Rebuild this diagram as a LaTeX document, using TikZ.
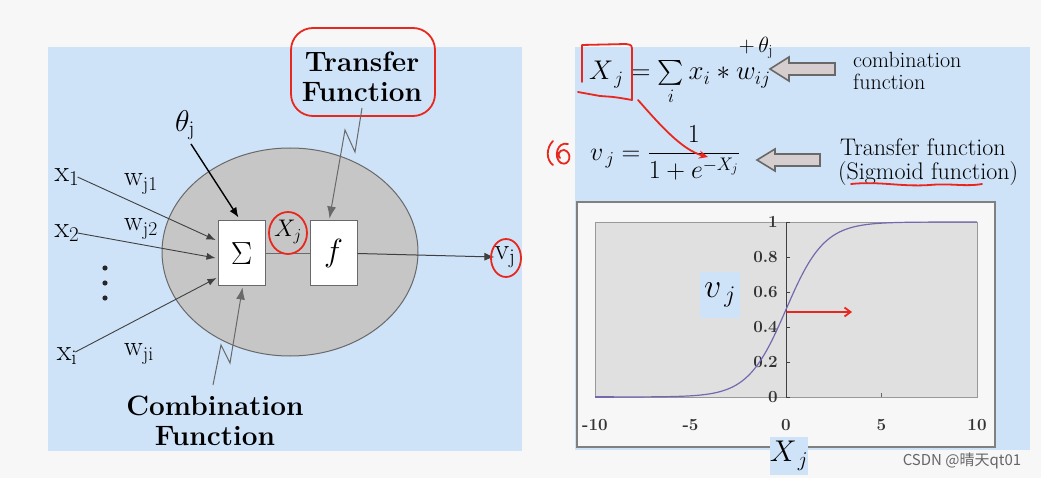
\RequirePackage{fix-cm}
\documentclass[tikz,border=0pt]{standalone}
\usepackage{amsmath}
\usepackage{fontspec}
\newfontfamily\cjk{Noto Sans CJK SC}
\usetikzlibrary{arrows.meta,calc}
\definecolor{panelblue}{RGB}{206,226,248}
\definecolor{cellgray}{RGB}{198,198,198}
\definecolor{edgegray}{RGB}{105,105,105}
\definecolor{plotgray}{RGB}{224,224,224}
\definecolor{hollowfill}{RGB}{214,206,206}
\definecolor{curvecol}{RGB}{115,105,175}
\definecolor{pen}{RGB}{232,40,30}
\definecolor{bgcol}{RGB}{247,247,247}
\newcommand{\fs}[1]{\fontsize{#1}{#1}\selectfont}
\begin{document}
\begin{tikzpicture}[x=1pt,y=-1pt,
  cellbox/.style={draw=edgegray,fill=white,line width=1pt,minimum width=47pt,minimum height=65pt,inner sep=0pt},
  lbl/.style={inner sep=0pt,font=\fs{30}},
  boldlbl/.style={inner sep=0pt,font=\fontsize{28}{30}\selectfont\bfseries,align=center},
  inarrow/.style={draw=black!75,line width=0.9pt,-{Latex[length=9pt,width=7pt]}},
  zig/.style={draw=edgegray,line width=1pt,-{Latex[length=12pt,width=9pt]}},
  redpen/.style={draw=pen,line width=1.8pt,line cap=round,line join=round},
  hollowarrow/.style={draw=edgegray,fill=hollowfill,line width=1.6pt,line join=miter},
  ticklbl/.style={inner sep=0pt,font=\fs{17}\bfseries,text=black!80},
  sidetxt/.style={inner sep=0pt,anchor=base west,font=\fs{24}},
  bluetag/.style={fill=panelblue,inner sep=0pt},
  ]
\useasboundingbox (0,0) rectangle (1041,478);
\fill[bgcol] (0,0) rectangle (1041,478);
\fill[panelblue] (48,47) rectangle (522,451);
\fill[panelblue] (575,47) rectangle (1030,450);

% ---------------- left: neuron ----------------
\draw[edgegray,fill=cellgray,line width=1pt] (290,252) ellipse [x radius=128, y radius=104];
\node[cellbox] (sum) at (241.5,253.5) {\fs{32}$\Sigma$};
\node[cellbox] (f) at (333.5,253.5) {\fs{32}$f$};
\draw[edgegray,line width=1pt] (sum) -- (f);
\node[lbl] (vj) at (505,257) {$\mathrm{v}_{\mathrm{j}}$};
\draw[black!75,line width=1pt,-{Latex[length=10pt,width=8pt]}] (f.east) -- (vj.west);
\node[lbl,font=\fs{24}] (xjin) at (288,232) {$X_j$};

\node[lbl] (theta) at (185,125) {$\theta_{\mathrm{j}}$};
\draw[black,line width=1.4pt,-{Latex[length=10pt,width=8pt]}] ($(theta.south)+(6,4)$) -- ($(sum.north)+(-3,-3)$);

\node[lbl] (x1) at (67,177) {$\mathrm{x}_1$};
\node[lbl] (x2) at (67,233) {$\mathrm{x}_2$};
\node[lbl] (xi) at (67,356) {$\mathrm{x}_{\mathrm{i}}$};
\node[lbl,font=\fs{28}] (w1) at (141,184) {$\mathrm{w}_{\mathrm{j}1}$};
\node[lbl,font=\fs{28}] (w2) at (141,229) {$\mathrm{w}_{\mathrm{j}2}$};
\node[lbl,font=\fs{28}] (wi) at (139,354) {$\mathrm{w}_{\mathrm{ji}}$};
\draw[inarrow] ($(x1.east)+(-2,0)$) -- ($(sum.west)+(-2,-13.5)$);
\draw[inarrow] ($(x2.east)+(-2,0)$) -- ($(sum.west)+(-2,4.5)$);
\draw[inarrow] ($(xi.east)+(-2,-4)$) -- ($(sum.west)+(-1,24.5)$);
\foreach \yy in {268,283,298} \fill[black!85] (105,\yy) circle [radius=2.6];

\node[boldlbl] (tf) at (362,77) {Transfer\\Function};
\draw[redpen,rounded corners=22pt] (291,28) rectangle (435,116);
\coordinate (ztop) at (362,108);
\coordinate (za) at (355,152);
\coordinate (zb) at (345,130);
\draw[zig] (ztop) -- (za) -- (zb) -- ($(f.north)+(-4,-2)$);

\node[boldlbl] (cf) at (215,421) {Combination\\Function};
\coordinate (zbot) at (213,385);
\coordinate (zc) at (221,345);
\coordinate (zd) at (230,363);
\draw[zig] (zbot) -- (zc) -- (zd) -- ($(sum.south)+(1,1)$);

\draw[redpen] (288,233) ellipse [x radius=19, y radius=21];
\draw[redpen] (506,258) ellipse [x radius=15, y radius=19];

% ---------------- right: formulas ----------------
\node[inner sep=0pt,anchor=base west] (eq1) at (589,80) {\fs{27}$X_{\,j} = \sum\limits_i x_i * w_{ij}$};
\node[inner sep=0pt,font=\fs{22}] (thetaplus) at (756,48) {$+\,\theta_{\mathrm{j}}$};
\node[inner sep=0pt,anchor=west] (eq2) at (590,153) {\fs{26}$\displaystyle v_{\,j} = \frac{1}{1+e^{-X_j}}$};

\draw[hollowarrow] (770,69) -- (789,57) -- (789,63) -- (835,63) -- (835,75) -- (789,75) -- (789,81) -- cycle;
\draw[hollowarrow] (757,160) -- (775,149) -- (775,154) -- (820,154) -- (820,166) -- (775,166) -- (775,171) -- cycle;
\node[sidetxt,font=\fs{22}] (comb1) at (853,68) {combination};
\node[sidetxt,font=\fs{22}] (comb2) at (853,90) {function};
\node[sidetxt] (trans1) at (840,156) {Transfer function};
\node[sidetxt] (trans2) at (838,180) {(Sigmoid function)};

% red annotations
\draw[redpen] (582,82) -- (582,45) -- (626,44) .. controls (632,45) .. (632,52) -- (632,100) .. controls (615,97) .. (600,96) -- (578,92);
\coordinate (redstart) at (638,100);
\coordinate (redtip) at (708,157);
\draw[redpen,-{Stealth[length=9pt,width=8pt]}] (redstart) .. controls (660,125) and (682,150) .. (redtip);
\draw[redpen] (553,141) .. controls (546,148) and (546,160) .. (553,165);
\draw[redpen] (568,144) .. controls (557,141) and (553,158) .. (561,163) .. controls (570,167) and (573,152) .. (564,150) .. controls (559,150) and (557,155) .. (560,158);
\draw[redpen] (851,184) .. controls (880,181) and (900,187) .. (930,185) .. controls (950,183) and (965,187) .. (982,184);

% ---------------- chart ----------------
\draw[black!50,fill=white!97!black,line width=1.2pt] (577,202) rectangle (995,447);
\fill[plotgray] (595,222) rectangle (977,397);
\draw[black!40,line width=0.8pt] (595,222) rectangle (977,397);
\draw[black!75,line width=1pt] (786,222) -- (786,397);
\foreach \v/\t in {0/0,0.2/0.2,0.4/0.4,0.6/0.6,0.8/0.8,1/1} {
  \draw[black!75,line width=0.8pt] (786,397-175*\v) -- (790,397-175*\v);
  \node[ticklbl,anchor=east] at (778,397-175*\v) {\t};
}
\draw[black!60,line width=0.8pt] (881,397) -- (881,393);
\foreach \xv/\t in {-10/-10,-5/-5,0/0,5/5,10/10}
  \node[ticklbl] at (786+19.1*\xv,425) {\t};
\draw[curvecol,line width=1.2pt] (595,397) -- (614,397);
\draw[curvecol,line width=1.2pt] plot[domain=-9:10,samples=120,smooth] ({786+19.1*\x},{397-175/(1+exp(-\x))});
\node[bluetag,minimum width=40pt,minimum height=46pt] (vjtag) at (720,295) {\fs{34}$v_{\,j}$};
\node[bluetag,minimum width=38pt,minimum height=38pt] (xjtag) at (789,456) {\fs{30}$X_{\,j}$};
\coordinate (rs) at (787,312);
\coordinate (re) at (852,312);
\draw[redpen,-{Straight Barb[length=6pt,width=9pt]}] (rs) -- (re);

\node[inner sep=0pt,text=black!60] (wm) at (962,461) {\cjk\fs{15}CSDN @晴天qt01};
\end{tikzpicture}
\end{document}
